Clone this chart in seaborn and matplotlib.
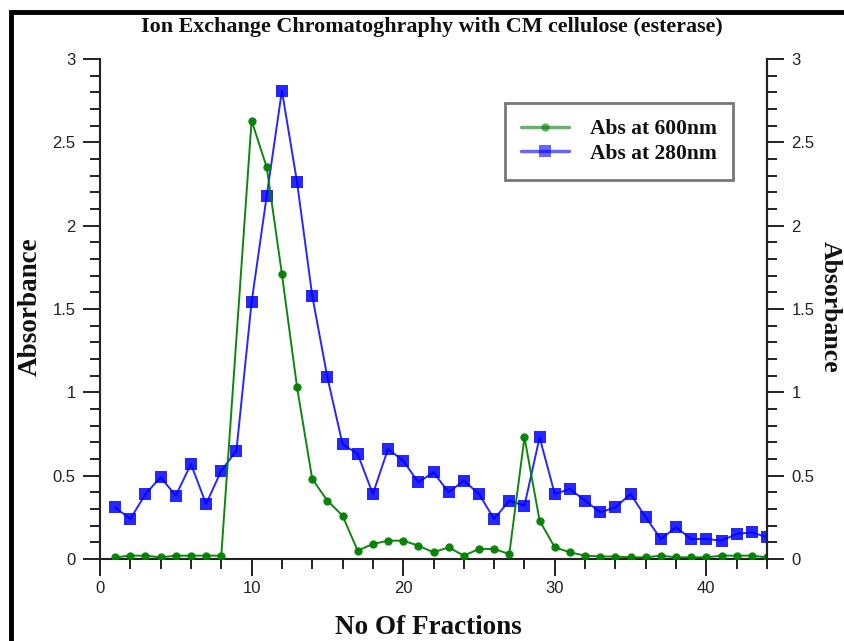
import numpy as np
import pandas as pd
import matplotlib
matplotlib.use("Agg")
import matplotlib.pyplot as plt
from matplotlib.ticker import MultipleLocator, FuncFormatter
from matplotlib.lines import Line2D
from matplotlib.patches import Rectangle
import seaborn as sns

# ---- data ----
fractions_600 = [1, 2, 3, 4, 5, 6, 7, 8, 10, 11, 12, 13, 14, 15, 16, 17, 18, 19, 20, 21, 22,
                 23, 24, 25, 26, 27, 28, 29, 30, 31, 32, 33, 34, 35, 36, 37, 38, 39, 40, 41, 42, 43, 44]
abs_600 = [0.01, 0.02, 0.02, 0.01, 0.02, 0.02, 0.02, 0.02, 2.63, 2.35, 1.71, 1.03, 0.48, 0.35, 0.26,
           0.05, 0.09, 0.11, 0.11, 0.08, 0.04, 0.07, 0.02, 0.06, 0.06, 0.03, 0.73, 0.23, 0.07, 0.04,
           0.02, 0.015, 0.015, 0.01, 0.01, 0.02, 0.01, 0.01, 0.01, 0.02, 0.02, 0.02, 0.01]
fractions_280 = list(range(1, 45))
abs_280 = [0.31, 0.24, 0.39, 0.49, 0.38, 0.57, 0.33, 0.53, 0.65, 1.54, 2.18, 2.81, 2.26, 1.58, 1.09,
           0.69, 0.63, 0.39, 0.66, 0.59, 0.46, 0.52, 0.40, 0.47, 0.39, 0.24, 0.35, 0.32, 0.73, 0.39,
           0.42, 0.35, 0.28, 0.31, 0.39, 0.25, 0.12, 0.19, 0.12, 0.12, 0.11, 0.15, 0.16, 0.13]
series_names = ["Abs at 600nm", "Abs at 280nm"]
title = "Ion Exchange Chromatoghraphy with CM cellulose (esterase)"
xlabel = "No Of Fractions"
ylabel = "Absorbance"

df600 = pd.DataFrame({"x": fractions_600, "y": abs_600})
df280 = pd.DataFrame({"x": fractions_280, "y": abs_280})

sns.set_style("white")
plt.rcParams["font.family"] = ["Liberation Sans", "DejaVu Sans"]

W, H = 844, 641
fig = plt.figure(figsize=(W / 100, H / 100), dpi=100)
fig.patch.set_facecolor("white")

L, R, T, B = 100, 767, 59, 559
ax = fig.add_axes([L / W, 1 - B / H, (R - L) / W, (B - T) / H])

green = "#008000"
blue = "#0000ff"

sns.lineplot(data=df600, x="x", y="y", ax=ax, color=green, linewidth=1.4, marker="o",
             markersize=6, markeredgewidth=0, markerfacecolor=green, alpha=0.95, zorder=3)
sns.lineplot(data=df280, x="x", y="y", ax=ax, color=blue, linewidth=1.4, marker="s",
             markersize=8.5, markeredgewidth=0, markerfacecolor=blue, alpha=0.85, zorder=2)

ax.set_xlim(0, 44)
ax.set_ylim(0, 3)
ax.set_xlabel("")
ax.set_ylabel("")

fmt = FuncFormatter(lambda v, p: ("%g" % round(v, 2)))

ax.spines["top"].set_visible(False)
for s in ["left", "bottom", "right"]:
    ax.spines[s].set_color("#222222")
    ax.spines[s].set_linewidth(1.5)

ax.xaxis.set_major_locator(MultipleLocator(10))
ax.xaxis.set_minor_locator(MultipleLocator(2))
ax.yaxis.set_major_locator(MultipleLocator(0.5))
ax.yaxis.set_minor_locator(MultipleLocator(0.1))
ax.yaxis.set_major_formatter(fmt)
ax.tick_params(axis="both", which="major", direction="out", length=12.5, width=1.4,
               color="#222222", labelsize=12, labelcolor="#222222")
ax.tick_params(axis="both", which="minor", direction="out", length=7.5, width=1.4, color="#222222")
ax.tick_params(axis="y", which="major", pad=5)
ax.tick_params(axis="x", which="major", pad=3)
ax.tick_params(left=True, bottom=True, which="both")

ax2 = ax.twinx()
ax2.set_ylim(0, 3)
for s in ["top", "left", "bottom"]:
    ax2.spines[s].set_visible(False)
ax2.spines["right"].set_color("#222222")
ax2.spines["right"].set_linewidth(1.5)
ax2.yaxis.set_major_locator(MultipleLocator(0.5))
ax2.yaxis.set_minor_locator(MultipleLocator(0.1))
ax2.yaxis.set_major_formatter(fmt)
ax2.tick_params(axis="y", which="major", direction="out", length=12.5, width=1.4,
                color="#222222", labelsize=12, labelcolor="#222222", pad=5, right=True)
ax2.tick_params(axis="y", which="minor", direction="out", length=7.5, width=1.4,
                color="#222222", right=True)

serif = ["Liberation Serif", "DejaVu Serif"]
fig.text(432 / W, 1 - 27 / H, title, ha="center", va="center", fontsize=15.8,
         fontweight="bold", family=serif, color="#111111")
fig.text(428 / W, 1 - 628 / H, xlabel, ha="center", va="center", fontsize=19.5,
         fontweight="bold", family=serif, color="#111111")
fig.text(30 / W, 1 - 307 / H, ylabel, ha="center", va="center", fontsize=19.5,
         fontweight="bold", family=serif, rotation=90, color="#111111")
fig.text(830 / W, 1 - 307 / H, ylabel, ha="center", va="center", fontsize=18.5,
         fontweight="bold", family=serif, rotation=270, color="#111111")

handles = [
    Line2D([0], [0], color=green, lw=2.5, alpha=0.6, marker="o", markersize=6,
           markerfacecolor=green, markeredgewidth=0),
    Line2D([0], [0], color=blue, lw=2.5, alpha=0.6, marker="s", markersize=8,
           markerfacecolor=blue, markeredgewidth=0),
]
leg = ax.legend(handles, series_names, loc="upper left",
                bbox_to_anchor=((505 - L) / (R - L), (B - 103) / (B - T)),
                prop={"family": serif, "weight": "bold", "size": 15.5},
                frameon=True, fancybox=False, handlelength=2.2, handletextpad=1.0,
                borderpad=0.75, labelspacing=0.2, borderaxespad=0)
leg.get_frame().set_edgecolor("#555555")
leg.get_frame().set_linewidth(2.0)
for t in leg.get_texts():
    t.set_color("#111111")
leg.set_zorder(10)

# outer frame (cropped at right and bottom)
fig.patches.append(Rectangle((11 / W, -0.1), 1.2, 1 - 12 / H + 0.1,
                             transform=fig.transFigure, fill=False,
                             edgecolor="black", linewidth=3.5, zorder=0))

fig.savefig("out.png", dpi=100)
